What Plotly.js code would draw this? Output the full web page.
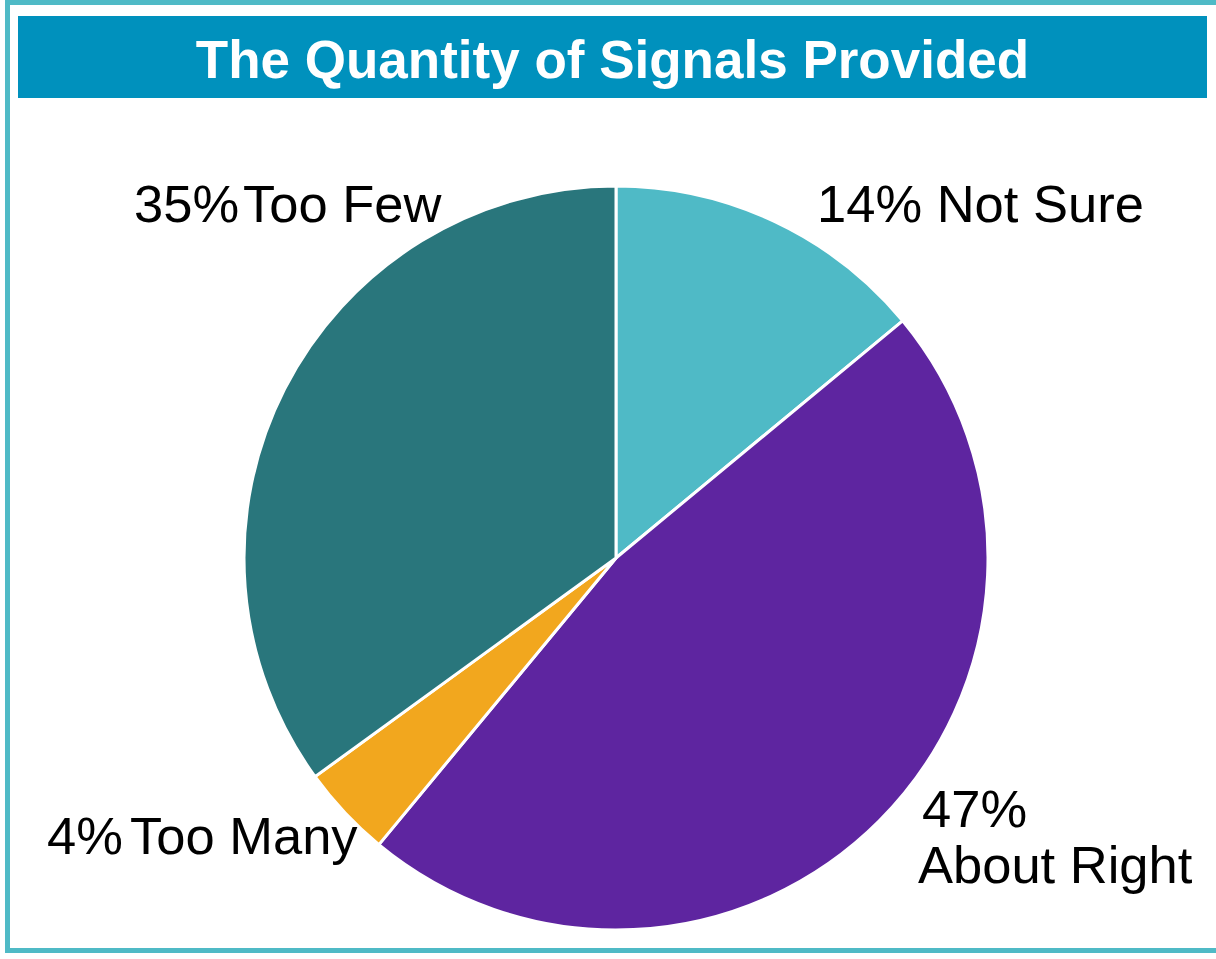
<!DOCTYPE html>
<html>
<head>
<meta charset="utf-8">
<script src="https://cdn.plot.ly/plotly-3.0.1.min.js"></script>
<style>html,body{margin:0;padding:0;background:#fff;}#chart{width:1216px;height:959px;}</style>
</head>
<body>
<div id="chart"></div>
<script>
var chartTitle = "The Quantity of Signals Provided";
var categories = ["Not Sure", "About Right", "Too Many", "Too Few"];
var values = [14, 47, 4, 35];
var sliceColors = ["#4FBAC6", "#5E25A0", "#F2A71E", "#29767C"];

var W = 1216, H = 959;
function px(x){ return x / W; }
function py(y){ return 1 - y / H; }

var labelFont = {family: "Liberation Sans, Arial, sans-serif", size: 52.5, color: "#000000"};
function ann(text, x, y){
  return {text: text, x: px(x), y: py(y), xref: "paper", yref: "paper",
          xanchor: "left", yanchor: "middle", showarrow: false, font: labelFont, align: "left"};
}
function pct(i){ return values[i] + "%"; }

var annotations = [
  ann(pct(3), 132, 204),
  ann(categories[3], 241, 204),
  ann(pct(0) + " " + categories[0], 815, 204),
  ann(pct(2), 45, 835),
  ann(categories[2], 128, 835),
  ann(pct(1), 920, 808),
  ann(categories[1], 916, 864)
];

var cx = 616, cy = 558, r = 372;
var data = [{
  type: "pie",
  labels: categories,
  values: values,
  sort: false,
  direction: "clockwise",
  rotation: 0,
  marker: {colors: sliceColors, line: {color: "#ffffff", width: 3}},
  textinfo: "none",
  hoverinfo: "label+percent",
  showlegend: false,
  domain: {x: [px(cx - r), px(cx + r)], y: [py(cy + r), py(cy - r)]}
}];

var layout = {
  width: W, height: H,
  margin: {l: 0, r: 0, t: 0, b: 0},
  paper_bgcolor: "#ffffff",
  showlegend: false,
  title: {
    text: chartTitle,
    x: px(612.5), xanchor: "center", xref: "paper",
    y: py(59), yanchor: "middle", yref: "paper",
    font: {family: "Liberation Sans, Arial, sans-serif", size: 53, color: "#ffffff", weight: "bold"}
  },
  shapes: [
    {type: "rect", xref: "paper", yref: "paper", x0: px(7.5), x1: px(1240), y0: py(950.5), y1: py(2.5),
     line: {color: "#4FBAC6", width: 5}, fillcolor: "rgba(0,0,0,0)", layer: "below"},
    {type: "rect", xref: "paper", yref: "paper", x0: px(18), x1: px(1207), y0: py(98), y1: py(16),
     line: {width: 0}, fillcolor: "#0091BD", layer: "below"}
  ],
  annotations: annotations
};

Plotly.newPlot("chart", data, layout, {displayModeBar: false, staticPlot: false});
</script>
</body>
</html>
